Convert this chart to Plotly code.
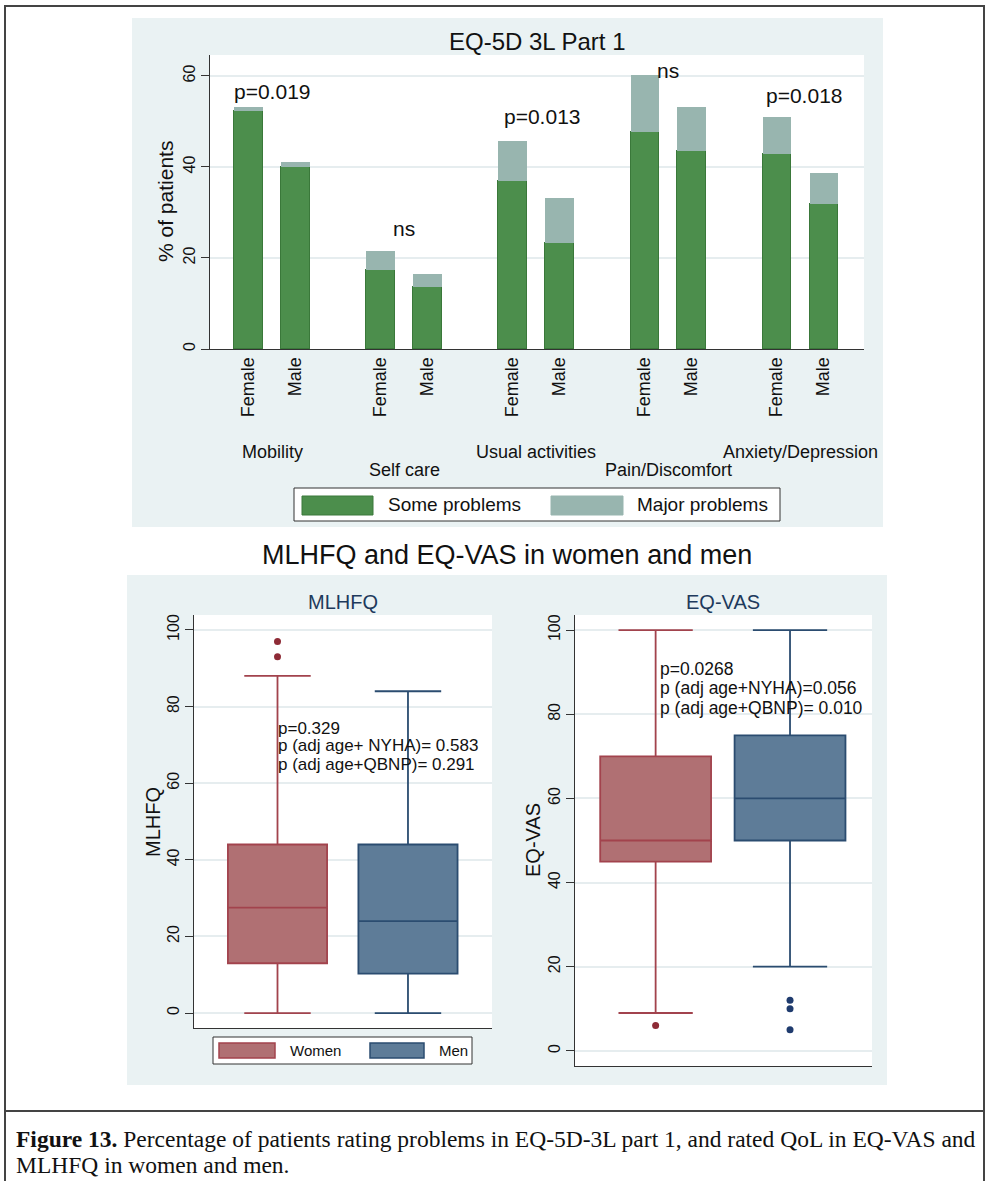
import plotly.graph_objects as go

# ---------------- data ----------------
# EQ-5D 3L part 1: % of patients with some / major problems, by sex
dimensions = ["Mobility", "Self care", "Usual activities", "Pain/Discomfort", "Anxiety/Depression"]
sexes = ["Female", "Male"]
some_female = [52.3, 17.4, 36.9, 47.7, 42.9]
some_male = [40.0, 13.6, 23.3, 43.5, 31.9]
major_female = [0.9, 4.1, 8.8, 12.5, 8.1]
major_male = [1.1, 2.9, 9.9, 9.7, 6.8]
p_labels = ["p=0.019", "ns", "p=0.013", "ns", "p=0.018"]
p_label_y = [56.5, 26.4, 51.0, 61.3, 55.6]

# Box-plot summaries (lower whisker, Q1, median, Q3, upper whisker, outliers)
mlhfq_women = dict(low=0, q1=13, med=27.5, q3=44, high=88, out=[93, 97])
mlhfq_men = dict(low=0, q1=10.3, med=24, q3=44, high=84, out=[])
eqvas_women = dict(low=9, q1=45, med=50, q3=70, high=100, out=[6])
eqvas_men = dict(low=20, q1=50, med=60, q3=75, high=100, out=[12, 10, 5])

mlhfq_text = ["p=0.329", "p (adj age+ NYHA)= 0.583", "p (adj age+QBNP)= 0.291"]
mlhfq_text_y = [74.3, 69.8, 65.0]
eqvas_text = ["p=0.0268", "p (adj age+NYHA)=0.056", "p (adj age+QBNP)= 0.010"]
eqvas_text_y = [90.7, 86.2, 81.5]

# ---------------- styling ----------------
W, H = 989, 1181
FONT = "Liberation Sans"
SERIF = "Liberation Serif"
PANEL = "#EAF2F3"
GRID = "#E6EDEF"
AXIS = "#333333"
TXT = "#111111"
GREEN, GREEN_EDGE = "#4C8E4C", "#3A783A"
LIGHT = "#98B5AF"
W_FILL, W_EDGE, W_DOT = "#B07073", "#A2434D", "#8E2B36"
M_FILL, M_EDGE, M_DOT = "#5E7C98", "#2B4C70", "#1F3B6E"
NAVY = "#1E3A5C"


def px(x):
    return x / W


def py(y):
    return 1 - y / H


GROUP_STEP = 2.81  # distance between groups, in bar-slot units
pos_female = [i * GROUP_STEP for i in range(len(dimensions))]
pos_male = [p + 1 for p in pos_female]
bar_x = pos_female + pos_male
bar_labels = [sexes[0]] * len(pos_female) + [sexes[1]] * len(pos_male)

# horizontal nudges (in px) for the significance labels above each group
P_LABEL_SHIFT = [0, 0, 6, 0, 4]

fig = go.Figure()

# ---- stacked bars ----
fig.add_trace(go.Bar(
    x=bar_x, y=some_female + some_male, width=0.6, name="Some problems",
    marker=dict(color=GREEN, line=dict(color=GREEN_EDGE, width=1)),
    xaxis="x", yaxis="y", showlegend=False,
))
fig.add_trace(go.Bar(
    x=bar_x, y=major_female + major_male, width=0.6, name="Major problems",
    marker=dict(color=LIGHT, line=dict(width=0)),
    xaxis="x", yaxis="y", showlegend=False,
))


# ---- box plots ----
def add_box(stats, pos, width, fill, edge, dot, xa, ya):
    fig.add_trace(go.Box(
        x=[pos], q1=[stats["q1"]], median=[stats["med"]], q3=[stats["q3"]],
        lowerfence=[stats["low"]], upperfence=[stats["high"]],
        width=width, whiskerwidth=0.67, fillcolor=fill,
        line=dict(color=edge, width=1.8), boxpoints=False,
        xaxis=xa, yaxis=ya, showlegend=False, hoverinfo="skip",
    ))
    if stats["out"]:
        fig.add_trace(go.Scatter(
            x=[pos] * len(stats["out"]), y=stats["out"], mode="markers",
            marker=dict(color=dot, size=7), xaxis=xa, yaxis=ya, showlegend=False,
        ))


add_box(mlhfq_women, 0, 0.76, W_FILL, W_EDGE, W_DOT, "x2", "y2")
add_box(mlhfq_men, 1, 0.76, M_FILL, M_EDGE, M_DOT, "x2", "y2")
add_box(eqvas_women, 0, 0.825, W_FILL, W_EDGE, W_DOT, "x3", "y3")
add_box(eqvas_men, 1, 0.825, M_FILL, M_EDGE, M_DOT, "x3", "y3")

# ---------------- axes ----------------
yax_common = dict(
    showline=True, linecolor=AXIS, linewidth=1, ticks="outside", ticklen=8,
    tickcolor=AXIS, tickangle=-90, tickfont=dict(family=FONT, size=16, color=TXT),
    showgrid=True, gridcolor=GRID, gridwidth=1.5, zeroline=False, automargin=False,
)
xbox_common = dict(
    showline=True, linecolor=AXIS, linewidth=1, ticks="", showticklabels=False,
    showgrid=False, zeroline=False, automargin=False,
)

fig.update_layout(
    width=W, height=H, margin=dict(l=0, r=0, t=0, b=0),
    paper_bgcolor="white", plot_bgcolor="rgba(0,0,0,0)",
    barmode="stack", boxmode="overlay", bargap=0,
    font=dict(family=FONT, color=TXT),
    xaxis=dict(
        domain=[px(210), px(864)], range=[-0.82, 13.10], anchor="y",
        tickvals=bar_x, ticktext=bar_labels, tickangle=-90,
        tickfont=dict(family=FONT, size=18, color=TXT),
        showline=True, linecolor=AXIS, linewidth=1, ticks="",
        showgrid=False, zeroline=False, automargin=False,
    ),
    yaxis=dict(domain=[py(349), py(55)], range=[0, 64.6], anchor="x",
               tickvals=[0, 20, 40, 60], **yax_common),
    xaxis2=dict(domain=[px(194), px(492)], range=[-0.64, 1.644], anchor="y2", **xbox_common),
    yaxis2=dict(domain=[py(1028), py(615)], range=[-3.9, 103.9], anchor="x2",
                tickvals=[0, 20, 40, 60, 80, 100], **yax_common),
    xaxis3=dict(domain=[px(575), px(872)], range=[-0.6, 1.61], anchor="y3", **xbox_common),
    yaxis3=dict(domain=[py(1066), py(615)], range=[-3.6, 103.6], anchor="x3",
                tickvals=[0, 20, 40, 60, 80, 100], **yax_common),
)

# ---------------- backgrounds, frames, legends ----------------
shapes = []


def rect(x0, y0, x1, y1, fill, line_color=None, line_width=0, layer="below"):
    shapes.append(dict(
        type="rect", xref="paper", yref="paper",
        x0=px(x0), x1=px(x1), y0=py(y1), y1=py(y0),
        fillcolor=fill, line=dict(color=line_color or fill, width=line_width),
        layer=layer,
    ))


def hline(x0, x1, y, color="#444444", width=2):
    shapes.append(dict(type="line", xref="paper", yref="paper",
                       x0=px(x0), x1=px(x1), y0=py(y), y1=py(y),
                       line=dict(color=color, width=width), layer="above"))


def vline(x, y0, y1, color="#444444", width=2):
    shapes.append(dict(type="line", xref="paper", yref="paper",
                       x0=px(x), x1=px(x), y0=py(y0), y1=py(y1),
                       line=dict(color=color, width=width), layer="above"))


# graph regions
rect(132, 18, 883, 527, PANEL)
rect(127, 575, 887, 1085, PANEL)
# white plot regions
for xr, yr in (("x", "y"), ("x2", "y2"), ("x3", "y3")):
    shapes.append(dict(type="rect", xref=f"{xr} domain", yref=f"{yr} domain",
                       x0=0, x1=1, y0=0, y1=1, fillcolor="white",
                       line=dict(width=0), layer="below"))

# bar legend
rect(294, 488, 780, 521, "white", AXIS, 1, layer="above")
rect(302, 496, 373, 515, GREEN, GREEN_EDGE, 1, layer="above")
rect(551, 496, 623, 515, LIGHT, LIGHT, 1, layer="above")
# box legend
rect(213, 1037, 472, 1064, "white", AXIS, 1, layer="above")
rect(219, 1043, 275, 1058, W_FILL, W_EDGE, 1.5, layer="above")
rect(370, 1043, 424, 1058, M_FILL, M_EDGE, 1.5, layer="above")

# outer figure frame and caption separator
hline(4, 985, 6)
vline(5, 6, 1181)
vline(984, 6, 1181)
hline(5, 984, 1111)

fig.update_layout(shapes=shapes)

# ---------------- text ----------------
ann = []


def paper_text(x, y, text, size, color=TXT, xanchor="center", angle=0, family=FONT):
    ann.append(dict(xref="paper", yref="paper", x=px(x), y=py(y), text=text,
                    showarrow=False, xanchor=xanchor, yanchor="middle",
                    textangle=angle, font=dict(family=family, size=size, color=color)))


paper_text(537, 42, "EQ-5D 3L Part 1", 24)
paper_text(166, 202, "% of patients", 21, angle=-90)

# group labels below the bars, staggered on two rows
for i, dim in enumerate(dimensions):
    row_y = 452 if i % 2 == 0 else 470
    ann.append(dict(xref="x", yref="paper", x=pos_female[i] + 0.5, y=py(row_y),
                    text=dim, showarrow=False, xanchor="center", yanchor="middle",
                    font=dict(family=FONT, size=18, color=TXT)))

# significance labels above each group
for i, lab in enumerate(p_labels):
    ann.append(dict(xref="x", yref="y", x=pos_female[i] + 0.5, y=p_label_y[i],
                    text=lab, showarrow=False, xanchor="center", yanchor="middle",
                    xshift=P_LABEL_SHIFT[i],
                    font=dict(family=FONT, size=21, color=TXT)))

paper_text(386, 505, "Some problems", 19, xanchor="left")
paper_text(635, 505, "Major problems", 19, xanchor="left")

paper_text(507, 555, "MLHFQ and EQ-VAS in women and men", 27)
paper_text(343, 602, "MLHFQ", 20, color=NAVY)
paper_text(723, 602, "EQ-VAS", 20, color=NAVY)
paper_text(153, 822, "MLHFQ", 20, angle=-90)
paper_text(533, 840, "EQ-VAS", 20, angle=-90)

for t, yv in zip(mlhfq_text, mlhfq_text_y):
    ann.append(dict(xref="x2", yref="y2", x=0.0, y=yv, text=t, showarrow=False,
                    xanchor="left", yanchor="middle", xshift=-2,
                    font=dict(family=FONT, size=17, color=TXT)))
for t, yv in zip(eqvas_text, eqvas_text_y):
    ann.append(dict(xref="x3", yref="y3", x=0.0, y=yv, text=t, showarrow=False,
                    xanchor="left", yanchor="middle", xshift=2,
                    font=dict(family=FONT, size=17.5, color=TXT)))

paper_text(288, 1050.5, "Women", 15, xanchor="left")
paper_text(437, 1050.5, "Men", 15, xanchor="left")

# caption
paper_text(14, 1139, "<b>Figure 13.</b> Percentage of patients rating problems in EQ-5D-3L part 1, "
           "and rated QoL in EQ-VAS and", 23.5, xanchor="left", family=SERIF)
paper_text(14, 1165, "MLHFQ in women and men.", 23.5, xanchor="left", family=SERIF)

fig.update_layout(annotations=ann)

fig.write_html("out.html")
